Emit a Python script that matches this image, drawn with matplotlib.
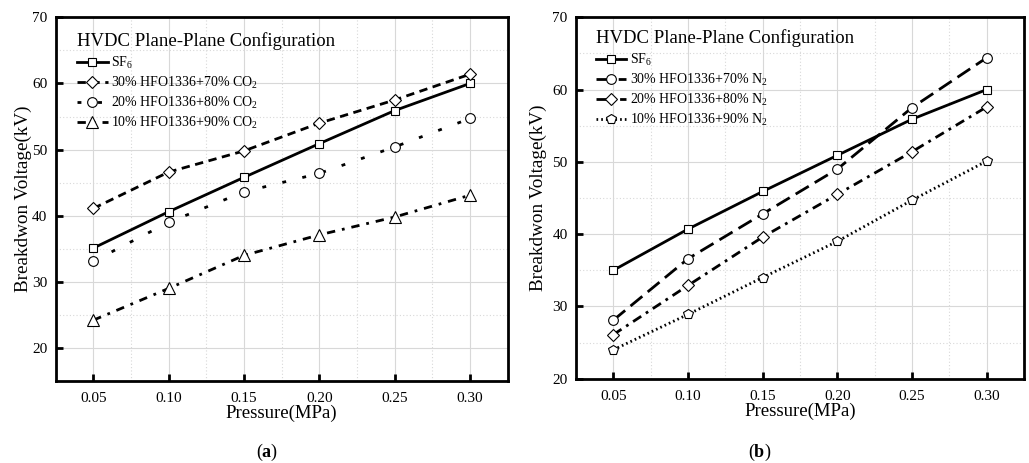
import matplotlib
matplotlib.use("Agg")
import matplotlib.pyplot as plt

plt.rcParams['font.family'] = ['Liberation Serif', 'DejaVu Serif']
plt.rcParams['mathtext.fontset'] = 'custom'
plt.rcParams['mathtext.rm'] = 'Liberation Serif'
plt.rcParams['mathtext.it'] = 'Liberation Serif:italic'
plt.rcParams['mathtext.bf'] = 'Liberation Serif:bold'

pressure = [0.05, 0.10, 0.15, 0.20, 0.25, 0.30]

# Panel (a): CO2 mixtures
a_sf6 = [35.1, 40.6, 45.8, 50.9, 55.9, 60.0]
a_30 = [41.1, 46.6, 49.8, 54.0, 57.5, 61.4]
a_20 = [33.1, 39.0, 43.6, 46.4, 50.4, 54.7]
a_10 = [24.2, 29.0, 34.0, 37.1, 39.8, 43.1]

# Panel (b): N2 mixtures
b_sf6 = [35.0, 40.7, 45.9, 50.9, 55.9, 60.0]
b_30 = [28.1, 36.6, 42.8, 49.0, 57.5, 64.4]
b_20 = [26.1, 32.9, 39.6, 45.5, 51.4, 57.6]
b_10 = [24.0, 28.9, 34.0, 39.0, 44.7, 50.1]

labels_a = ['SF$_6$', '30% HFO1336+70% CO$_2$', '20% HFO1336+80% CO$_2$', '10% HFO1336+90% CO$_2$']
labels_b = ['SF$_6$', '30% HFO1336+70% N$_2$', '20% HFO1336+80% N$_2$', '10% HFO1336+90% N$_2$']

xticks = [0.05, 0.10, 0.15, 0.20, 0.25, 0.30]
xticklabels = ['0.05', '0.10', '0.15', '0.20', '0.25', '0.30']
xminor = [0.075, 0.125, 0.175, 0.225, 0.275]
yticks = [20, 30, 40, 50, 60, 70]

fig = plt.figure(figsize=(10.29, 4.63), dpi=100)
axA = fig.add_axes([0.0541, 0.1771, 0.4393, 0.7855])
axB = fig.add_axes([0.5598, 0.1821, 0.4353, 0.7805])

mk = dict(markerfacecolor='white', markeredgecolor='black', markeredgewidth=0.8, color='black', lw=2)

def style(ax, ylim, ylabelpad):
    ax.set_xlim(0.025, 0.325)
    ax.set_ylim(*ylim)
    ax.set_xticks(xticks)
    ax.set_xticklabels(xticklabels)
    ax.set_yticks(yticks)
    ax.set_xticks(xminor, minor=True)
    ax.set_yticks([y + 5 for y in yticks if y + 5 < ylim[1]] + ([15] if ylim[0] < 15.5 else []), minor=True)
    ax.grid(True, which='major', color='#d8d8d8', lw=0.8)
    ax.grid(True, which='minor', color='#d8d8d8', lw=0.8, linestyle=(0, (1, 2)))
    ax.set_axisbelow(True)
    ax.tick_params(which='major', direction='in', length=5, width=2, labelsize=11)
    ax.tick_params(axis='x', which='major', pad=8)
    ax.tick_params(axis='y', which='major', pad=6)
    ax.tick_params(which='minor', length=0)
    for s in ax.spines.values():
        s.set_linewidth(2)
    ax.set_xlabel('Pressure(MPa)', fontsize=13.5, labelpad=0)
    ax.set_ylabel('Breakdwon Voltage(kV)', fontsize=13.8, labelpad=ylabelpad)

# panel a
axA.plot(pressure, a_sf6, marker='s', ms=6, linestyle='-', label=labels_a[0], **mk)
axA.plot(pressure, a_30, marker='D', ms=6.5, linestyle=(0, (3, 2)), label=labels_a[1], **mk)
axA.plot(pressure, a_20, marker='o', ms=7, linestyle=(0, (1.4, 6)), label=labels_a[2], **mk)
axA.plot(pressure, a_10, marker='^', ms=8, linestyle=(0, (3, 2.5, 1, 2.5)), label=labels_a[3], **mk)
style(axA, (15, 70), 0)

# panel b
axB.plot(pressure, b_sf6, marker='s', ms=6, linestyle='-', label=labels_b[0], **mk)
axB.plot(pressure, b_30, marker='o', ms=7, linestyle=(0, (5.5, 2.5)), label=labels_b[1], **mk)
axB.plot(pressure, b_20, marker='D', ms=6.5, linestyle=(0, (3.5, 2, 1, 2)), label=labels_b[2], **mk)
axB.plot(pressure, b_10, marker='p', ms=7.5, linestyle=(0, (0.6, 1.1)), label=labels_b[3], **mk)
style(axB, (20, 70), 4)

for ax, anchor in ((axA, (0.038, 0.970)), (axB, (0.035, 0.978))):
    ax.legend(loc='upper left', bbox_to_anchor=anchor, frameon=False,
              title='HVDC Plane-Plane Configuration',
              title_fontsize=13.5, fontsize=10, handlelength=2.2, handletextpad=0.25,
              labelspacing=0.3, borderaxespad=0, borderpad=0.3, alignment='left')

fig.text(0.2595, 0.022, r'($\mathbf{a}$)', ha='center', va='center', fontsize=13)
fig.text(0.7385, 0.022, r'($\mathbf{b}$)', ha='center', va='center', fontsize=13)

fig.savefig('out.png', dpi=100)
